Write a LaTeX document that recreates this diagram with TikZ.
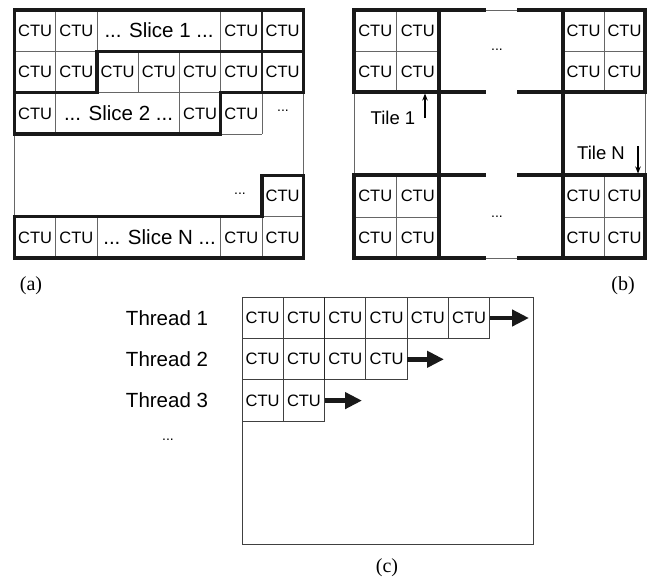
\documentclass[tikz,border=0pt]{standalone}
\usepackage{fontspec}
\setmainfont{Liberation Sans}
\newfontfamily\capfont{Liberation Serif}
\usetikzlibrary{arrows.meta}
\begin{document}
\begin{tikzpicture}[x=1pt,y=-1pt,
  thinl/.style={line width=0.9pt, draw=black!60},
  medl/.style={line width=1.5pt, draw=black!85},
  boldl/.style={line width=3.4pt, draw=black!90, line cap=rect, line join=miter},
  cellc/.style={line width=1pt, draw=black!75},
  ctutxt/.style={inner sep=0pt, font=\fontsize{16.5}{16.5}\selectfont},
  bigtxt/.style={inner sep=0pt, font=\fontsize{20.5}{20.5}\selectfont},
  midtxt/.style={inner sep=0pt, font=\fontsize{18.5}{18.5}\selectfont},
  dotstxt/.style={inner sep=0pt, font=\fontsize{14}{14}\selectfont},
  captxt/.style={inner sep=0pt, font=\capfont\fontsize{20}{20}\selectfont},
  fatarr/.style={line width=4.5pt, draw=black!90, -{Triangle[length=17pt,width=16pt]}},
  smallarr/.style={line width=1.2pt, -{Stealth[length=7pt,width=5.5pt]}}]
\useasboundingbox (0,0) rectangle (652,578);

% ---------------- panel (a) ----------------
\draw[thinl] (55.75,10)--(55.75,92.7) (97,10)--(97,51.3) (220.75,10)--(220.75,51.3);
\draw[thinl] (138.25,51.3)--(138.25,92.7) (179.5,51.3)--(179.5,134) (220.75,51.3)--(220.75,92.7);
\draw[thinl] (14.5,51.3)--(97,51.3) (97,92.7)--(220.75,92.7);
\draw[thinl] (55.75,92.7)--(55.75,134) (262,92.7)--(262,134) (220.75,134)--(262,134);
\draw[thinl] (303.25,92.7)--(303.25,175.3) (14.5,134)--(14.5,216.7);
\draw[thinl] (262,216.7)--(303.25,216.7);
\draw[thinl] (55.75,216.7)--(55.75,258) (97,216.7)--(97,258) (220.75,216.7)--(220.75,258) (262,216.7)--(262,258);
\draw[medl] (262,10)--(262,92.7);
\draw[boldl] (14.5,134)--(14.5,10)--(303.25,10)--(303.25,92.7);
\draw[boldl] (14.5,92.7)--(97,92.7)--(97,51.3)--(303.25,51.3);
\draw[boldl] (14.5,134)--(220.75,134)--(220.75,92.7)--(303.25,92.7);
\draw[boldl] (14.5,216.7)--(262,216.7)--(262,175.3)--(303.25,175.3)--(303.25,258)--(14.5,258)--cycle;
\node[ctutxt] (a11) at (35.1,30.6) {CTU};
\node[ctutxt] (a12) at (76.4,30.6) {CTU};
\node[bigtxt] (s1) at (159,30.6) {... Slice 1 ...};
\node[ctutxt] (a16) at (241.4,30.6) {CTU};
\node[ctutxt] (a17) at (282.6,30.6) {CTU};
\foreach \x [count=\i] in {35.1,76.4,117.6,158.9,200.1,241.4,282.6}
  \node[ctutxt] (a2\i) at (\x,72) {CTU};
\node[ctutxt] (a31) at (35.1,113.4) {CTU};
\node[bigtxt] (s2) at (118.5,113.4) {... Slice 2 ...};
\node[ctutxt] (a35) at (200.1,113.4) {CTU};
\node[ctutxt] (a36) at (241.4,113.4) {CTU};
\node[dotstxt] (a37) at (283,111) {...};
\node[dotstxt] (a56) at (240,194) {...};
\node[ctutxt] (a57) at (282.6,196) {CTU};
\node[ctutxt] (a61) at (35.1,237.4) {CTU};
\node[ctutxt] (a62) at (76.4,237.4) {CTU};
\node[bigtxt] (sN) at (159.5,237.4) {... Slice N ...};
\node[ctutxt] (a66) at (241.4,237.4) {CTU};
\node[ctutxt] (a67) at (282.6,237.4) {CTU};
\node[captxt] (capa) at (31,286) {(a)};

% ---------------- panel (b) ----------------
\draw[thinl] (396.5,10)--(396.5,92) (396.5,175)--(396.5,258) (604,10)--(604,92) (604,175)--(604,258);
\draw[thinl] (354,51)--(439,51) (563,51)--(645,51) (354,217)--(439,217) (563,217)--(645,217);
\draw[thinl] (354,92)--(354,175) (645,92)--(645,175) (484,10)--(519,10) (484,258)--(519,258);
\draw[boldl] (354,92)--(354,10)--(484,10) (519,10)--(645,10)--(645,92);
\draw[boldl] (354,175)--(354,258)--(484,258) (519,258)--(645,258)--(645,175);
\draw[boldl] (354,92)--(484,92) (519,92)--(645,92) (354,175)--(484,175) (519,175)--(645,175);
\draw[boldl] (439,10)--(439,258) (563,10)--(563,258);
\foreach \x/\c in {375.25/1,417.75/2,583.5/3,624.5/4}{
  \node[ctutxt] (b1\c) at (\x,30.5) {CTU};
  \node[ctutxt] (b2\c) at (\x,71.5) {CTU};
  \node[ctutxt] (b3\c) at (\x,196) {CTU};
  \node[ctutxt] (b4\c) at (\x,237.5) {CTU};
}
\node[dotstxt] (bd1) at (497,50) {...};
\node[dotstxt] (bd2) at (497,217) {...};
\node[midtxt] (t1) at (393,118) {Tile 1};
\node[midtxt] (tN) at (601,153) {Tile N};
\coordinate (t1s) at (425,118);
\coordinate (t1e) at (425,93.5);
\coordinate (tNs) at (638,146);
\coordinate (tNe) at (638,173.5);
\draw[smallarr] (t1s)--(t1e);
\draw[smallarr] (tNs)--(tNe);
\node[captxt] (capb) at (623,286) {(b)};

% ---------------- panel (c) ----------------
\draw[cellc] (242,297) rectangle (533,544);
\foreach \i in {0,...,5}
  \draw[cellc] ({242+41.3*\i},297) rectangle ({283.3+41.3*\i},338.3);
\foreach \i in {0,...,3}
  \draw[cellc] ({242+41.3*\i},338.3) rectangle ({283.3+41.3*\i},379.6);
\foreach \i in {0,1}
  \draw[cellc] ({242+41.3*\i},379.6) rectangle ({283.3+41.3*\i},421);
\draw[line width=1.4pt, draw=black!85] (324.6,297)--(324.6,379.6);
\foreach \i in {1,...,6}
  \node[ctutxt] (c1\i) at ({221.35+41.3*\i},318) {CTU};
\foreach \i in {1,...,4}
  \node[ctutxt] (c2\i) at ({221.35+41.3*\i},359.3) {CTU};
\foreach \i in {1,2}
  \node[ctutxt] (c3\i) at ({221.35+41.3*\i},400.6) {CTU};
\coordinate (s1a) at (489.8,318);
\coordinate (e1) at (529,318);
\coordinate (s2a) at (407.2,359.3);
\coordinate (e2) at (444,359.3);
\coordinate (s3a) at (324.6,400.6);
\coordinate (e3) at (362,400.6);
\draw[fatarr] (s1a)--(e1);
\draw[fatarr] (s2a)--(e2);
\draw[fatarr] (s3a)--(e3);
\node[bigtxt] (th1) at (167,318) {Thread 1};
\node[bigtxt] (th2) at (167,359) {Thread 2};
\node[bigtxt] (th3) at (167,400) {Thread 3};
\node[dotstxt] (thd) at (168,440) {...};
\node[captxt] (capc) at (387,568) {(c)};
\end{tikzpicture}
\end{document}
